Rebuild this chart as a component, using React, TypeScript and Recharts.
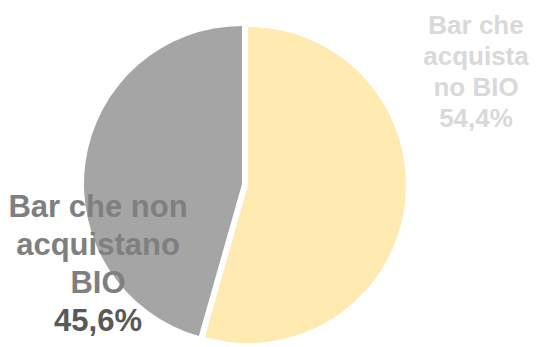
import { PieChart, Pie, Cell } from 'recharts';

const categories = ['Bar che acquista no BIO', 'Bar che non acquistano BIO'];
const shares = [54.4, 45.6];
const labelLines = [
    ['Bar che', 'acquista', 'no BIO', '54,4%'],
    ['Bar che non', 'acquistano', 'BIO', '45,6%'],
];

const data = categories.map((name, i) => ({ name, value: shares[i] }));

const COLORS = ['#FFEAB2', '#A5A5A5'];

// label placement relative to the pie centre
const LABELS = [
    { dx: 228, dy: -151, size: 26, lh: 31, colors: ['#D9D9D9', '#D9D9D9', '#D9D9D9', '#D9D9D9'] },
    { dx: -144, dy: 33, size: 31, lh: 38, colors: ['#7F7F7F', '#7F7F7F', '#7F7F7F', '#595959'] },
];

const makeLabel = (which: number) => (props: any) => {
    if (props.index !== which) return null;
    const cfg = LABELS[which];
    const x = props.cx + cfg.dx;
    const y = props.cy + cfg.dy;
    return (
        <text
            x={x}
            y={y}
            textAnchor="middle"
            fontFamily="'Liberation Sans', Arial, sans-serif"
            fontWeight="bold"
            fontSize={cfg.size}
        >
            {labelLines[which].map((line, i) => (
                <tspan key={i} x={x} dy={i === 0 ? 0 : cfg.lh} fill={cfg.colors[i]}>
                    {line}
                </tspan>
            ))}
        </text>
    );
};

export default function App() {
    return (
        <div style={{ position: 'absolute', left: 0, top: 0, width: 539, height: 347, background: '#fff' }}>
            <PieChart width={539} height={347} margin={{ top: 0, right: 0, bottom: 0, left: 0 }}>
                <Pie
                    data={data}
                    dataKey="value"
                    cx={248}
                    cy={185}
                    outerRadius={158}
                    startAngle={90}
                    endAngle={-270}
                    stroke="none"
                    isAnimationActive={false}
                    labelLine={false}
                    label={makeLabel(0)}
                >
                    <Cell fill={COLORS[0]} />
                    <Cell fill="transparent" />
                </Pie>
                <Pie
                    data={data}
                    dataKey="value"
                    cx={242}
                    cy={184}
                    outerRadius={158}
                    startAngle={90}
                    endAngle={-270}
                    stroke="none"
                    isAnimationActive={false}
                    labelLine={false}
                    label={makeLabel(1)}
                >
                    <Cell fill="transparent" />
                    <Cell fill={COLORS[1]} />
                </Pie>
            </PieChart>
        </div>
    );
}
